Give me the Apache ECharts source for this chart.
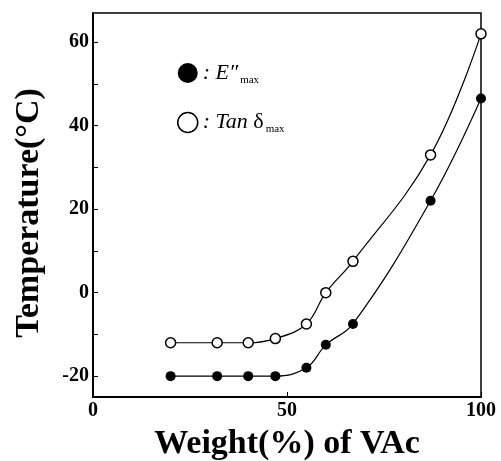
<!DOCTYPE html>
<html>
<head>
    <meta charset="utf-8">
    <title>Temperature vs VAc</title>
    <script src="https://cdn.jsdelivr.net/npm/echarts@6/dist/echarts.min.js"></script>
    <style>
        html, body { margin: 0; padding: 0; background: #fff; }
    </style>
</head>
<body>
    <div id="main" style="width: 501px;height:461px;"></div>
    <script type="text/javascript">
        // weight % of VAc
        var weight = [20, 32, 40, 47, 55, 60, 67, 87, 100];
        // E'' max temperature (filled)
        var eMax = [-20, -20, -20, -20, -18, -12.5, -7.5, 22, 46.5];
        // tan delta max temperature (open)
        var tanMax = [-12, -12, -12, -11, -7.5, 0, 7.5, 33, 62];

        var yLabels = [-20, 0, 20, 40, 60];
        var yTicks = [-20, -10, 0, 10, 20, 30, 40, 50, 60];

        function pairs(xs, ys) {
            return xs.map(function (x, i) { return [x, ys[i]]; });
        }

        var serif = '"Liberation Serif", "DejaVu Serif", serif';
        var myChart = echarts.init(document.getElementById('main'));

        var option = {
            animation: false,
            backgroundColor: '#fff',
            grid: {
                left: 93, right: 20, top: 13, bottom: 64,
                outerBoundsMode: 'none', containLabel: false,
                show: true, borderColor: '#000', borderWidth: 1.5
            },
            legend: {
                orient: 'vertical',
                left: 172, top: 57,
                itemWidth: 20, itemHeight: 20, itemGap: 26,
                textStyle: {
                    fontFamily: serif, fontSize: 22, color: '#000',
                    rich: {
                        i: { fontFamily: serif, fontStyle: 'italic', fontSize: 22, color: '#000' },
                        s: { fontFamily: serif, fontSize: 11, color: '#000', padding: [14, 0, 0, 2] }
                    }
                },
                formatter: function (name) {
                    if (name === 'E') return '{i|: E″}{s|max}';
                    return '{i|: Tan} δ{s|max}';
                },
                data: [
                    { name: 'E', icon: 'circle', itemStyle: { color: '#000', borderWidth: 0 } },
                    { name: 'Tan', icon: 'circle', itemStyle: { color: '#fff', borderColor: '#000', borderWidth: 1.5 } }
                ]
            },
            xAxis: {
                type: 'value', min: 0, max: 100, interval: 50,
                name: 'Weight(%) of VAc', nameLocation: 'middle', nameGap: 30,
                nameTextStyle: { fontFamily: serif, fontWeight: 'bold', fontSize: 34, color: '#000', verticalAlign: 'top' },
                axisLine: { onZero: false, lineStyle: { color: '#000', width: 2 } },
                axisTick: { inside: true, length: 5, lineStyle: { color: '#000' } },
                axisLabel: { fontFamily: serif, fontWeight: 'bold', fontSize: 20, color: '#000', margin: 4 },
                splitLine: { show: false }
            },
            yAxis: {
                type: 'value', min: -25, max: 67,
                name: 'Temperature(°C)', nameLocation: 'middle', nameGap: 47, nameRotate: 90,
                nameTextStyle: { fontFamily: serif, fontWeight: 'bold', fontSize: 34, color: '#000', padding: [0, 16, 0, 0] },
                axisLine: { show: true, onZero: false, lineStyle: { color: '#000', width: 2 } },
                axisTick: { show: true, inside: true, length: 5, customValues: yTicks, lineStyle: { color: '#000' } },
                axisLabel: { customValues: yLabels, fontFamily: serif, fontWeight: 'bold', fontSize: 20, color: '#000', margin: 4 },
                splitLine: { show: false }
            },
            series: [
                {
                    name: 'E', type: 'line', data: pairs(weight, eMax),
                    smooth: 0.4,
                    symbol: 'circle', symbolSize: 10,
                    itemStyle: { color: '#000' },
                    lineStyle: { color: '#000', width: 1.2 }
                },
                {
                    name: 'Tan', type: 'line', data: pairs(weight, tanMax),
                    smooth: 0.4,
                    symbol: 'circle', symbolSize: 10,
                    itemStyle: { color: '#fff', borderColor: '#000', borderWidth: 1.5 },
                    lineStyle: { color: '#000', width: 1.2 }
                }
            ]
        };
        myChart.setOption(option);
    </script>
</body>
</html>
